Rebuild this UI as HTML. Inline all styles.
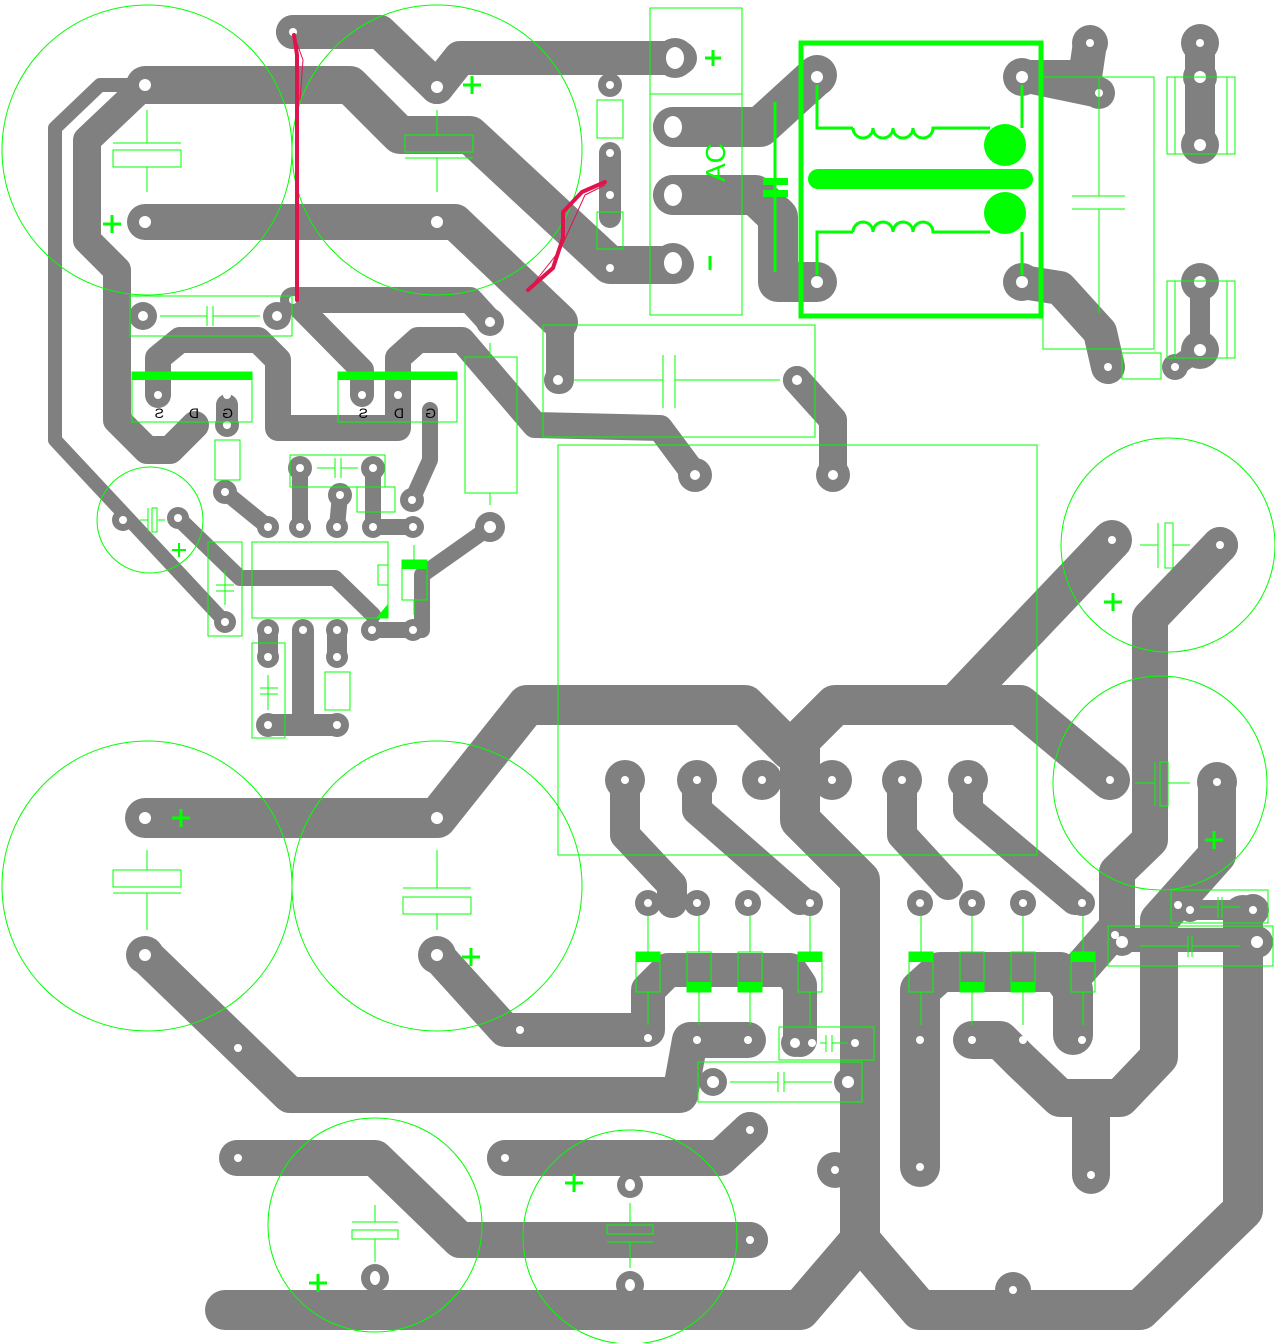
<!DOCTYPE html>
<html><head><meta charset="utf-8"><style>
html,body{margin:0;padding:0;background:#fff}
svg{display:block}
</style></head><body>
<svg width="1275" height="1343" viewBox="0 0 1275 1343" xmlns="http://www.w3.org/2000/svg">
<rect width="1275" height="1343" fill="#fff"/>
<g fill="none" stroke="#808080" stroke-linecap="round" stroke-linejoin="round">
 <polyline stroke-width="34" points="293,32 380,32 437,87"/>
 <polyline stroke-width="34" points="437,87 460,58 680,58"/>
 <polyline stroke-width="38" points="145,85 350,85 400,135 470,135 610,265 675,265"/>
 <polyline stroke-width="14" points="145,85 100,85 55,128 55,440 225,622"/>
 <polyline stroke-width="28" points="145,85 87,140 87,240 117,270 117,420 147,450 170,450 195,425"/>
 <polyline stroke-width="36" points="145,222 455,222 560,322"/>
 <polyline stroke-width="28" points="560,322 560,380"/>
 <polyline stroke-width="26" points="293,300 470,300 490,322"/>
 <polyline stroke-width="24" points="293,300 362,370 362,395"/>
 <polyline stroke-width="26" points="158,395 158,358 180,340 258,340 278,360 278,428 398,428 398,358 418,340 462,340 535,425 660,428 695,475"/>
 <polyline stroke-width="16" points="430,410 430,460 412,500"/>
 <polyline stroke-width="22" points="227,405 227,425"/>
 <polyline stroke-width="16" points="225,492 268,527"/>
 <polyline stroke-width="16" points="300,468 300,527"/>
 <polyline stroke-width="16" points="340,495 337,527"/>
 <polyline stroke-width="16" points="373,468 373,527 413,527"/>
 <polyline stroke-width="16" points="490,527 422,575 422,630 372,630"/>
 <polyline stroke-width="16" points="178,518 240,578 335,578 373,615"/>
 <polyline stroke-width="20" points="268,630 268,657"/>
 <polyline stroke-width="22" points="303,632 303,725"/>
 <polyline stroke-width="22" points="268,725 337,725"/>
 <polyline stroke-width="20" points="337,632 337,657"/>
 <polyline stroke-width="40" points="673,127 760,127 817,75"/>
 <polyline stroke-width="40" points="673,195 755,195 778,217 778,282 817,282"/>
 <polyline stroke-width="22" points="610,153 610,217"/>
 <polyline stroke-width="34" points="1022,77 1085,77 1090,43"/>
 <polyline stroke-width="30" points="1022,77 1099,93"/>
 <polyline stroke-width="34" points="1022,282 1060,288 1100,332 1108,367"/>
 <polyline stroke-width="30" points="1200,43 1200,145"/>
 <polyline stroke-width="20" points="1200,282 1200,350 1175,367"/>
 <polyline stroke-width="28" points="797,380 833,420 833,475"/>
 <polyline stroke-width="40" points="145,818 437,818 527,705 745,705 790,750"/>
 <polyline stroke-width="40" points="1110,780 1020,705 835,705 800,740 800,820 860,880 860,1240 800,1310 225,1310"/>
 <polyline stroke-width="40" points="860,1240 920,1310 1140,1310 1243,1210 1243,915"/>
 <polyline stroke-width="40" points="1112,540 955,705"/>
 <polyline stroke-width="36" points="1220,545 1150,618 1150,840 1117,872 1117,927 1075,975"/>
 <polyline stroke-width="38" points="1217,782 1217,855 1159,920 1159,1057 1120,1098 1060,1098 1020,1060 1000,1040 972,1040"/>
 <polyline stroke-width="38" points="1091,1098 1091,1175"/>
 <polyline stroke-width="30" points="625,780 625,835 672,885 672,903"/>
 <polyline stroke-width="30" points="697,780 697,810 800,900"/>
 <polyline stroke-width="30" points="902,780 902,835 948,885"/>
 <polyline stroke-width="30" points="968,780 968,810 1075,900"/>
 <polyline stroke-width="34" points="437,955 505,1030 648,1030 648,990 668,970 790,970 800,985 800,1040"/>
 <polyline stroke-width="34" points="697,1040 748,1040"/>
 <polyline stroke-width="36" points="145,955 290,1095 680,1095 690,1040 748,1040"/>
 <polyline stroke-width="40" points="920,1167 920,990 940,972 1060,972 1073,990 1073,1035"/>
 <polyline stroke-width="36" points="237,1158 375,1158 460,1240 750,1240"/>
 <polyline stroke-width="36" points="505,1158 720,1158 750,1130"/>
 <polyline stroke-width="20" points="1190,910 1253,910"/>
 <polyline stroke-width="24" points="1120,940 1255,940"/>
</g>
<g fill="#808080">
 <circle cx="293" cy="32" r="17"/><circle cx="437" cy="87" r="17"/><circle cx="145" cy="85" r="17"/><circle cx="145" cy="222" r="17"/><circle cx="437" cy="222" r="17"/>
 <circle cx="675" cy="58" r="20"/><circle cx="673" cy="127" r="20"/><circle cx="673" cy="195" r="20"/><circle cx="673" cy="263" r="20"/>
 <circle cx="610" cy="85" r="12"/><circle cx="610" cy="268" r="12"/>
 <circle cx="143" cy="316" r="14"/><circle cx="277" cy="316" r="14"/><circle cx="490" cy="322" r="14"/><circle cx="558" cy="380" r="14"/><circle cx="797" cy="380" r="14"/>
 <circle cx="695" cy="475" r="17"/><circle cx="833" cy="475" r="17"/>
 <circle cx="227" cy="425" r="12"/><circle cx="225" cy="492" r="12"/><circle cx="268" cy="527" r="11"/><circle cx="300" cy="527" r="11"/><circle cx="337" cy="527" r="11"/><circle cx="373" cy="527" r="11"/><circle cx="413" cy="527" r="11"/>
 <circle cx="300" cy="468" r="12"/><circle cx="340" cy="495" r="12"/><circle cx="373" cy="468" r="12"/><circle cx="412" cy="500" r="12"/><circle cx="490" cy="527" r="15"/>
 <circle cx="123" cy="520" r="11"/><circle cx="178" cy="518" r="11"/><circle cx="225" cy="622" r="11"/><circle cx="268" cy="630" r="11"/><circle cx="303" cy="630" r="11"/><circle cx="337" cy="630" r="11"/><circle cx="372" cy="630" r="11"/><circle cx="413" cy="630" r="11"/>
 <circle cx="268" cy="657" r="11"/><circle cx="337" cy="657" r="11"/><circle cx="268" cy="725" r="12"/><circle cx="337" cy="725" r="12"/>
 <circle cx="817" cy="77" r="19"/><circle cx="1022" cy="77" r="19"/><circle cx="817" cy="282" r="19"/><circle cx="1022" cy="282" r="19"/>
 <circle cx="1090" cy="43" r="18"/><circle cx="1099" cy="93" r="16"/><circle cx="1108" cy="367" r="13"/><circle cx="1175" cy="367" r="13"/>
 <circle cx="1200" cy="43" r="19"/><circle cx="1200" cy="77" r="17"/><circle cx="1200" cy="145" r="19"/><circle cx="1200" cy="282" r="19"/><circle cx="1200" cy="350" r="19"/>
 <circle cx="625" cy="780" r="20"/><circle cx="697" cy="780" r="20"/><circle cx="762" cy="780" r="20"/><circle cx="832" cy="780" r="20"/><circle cx="902" cy="780" r="20"/><circle cx="968" cy="780" r="20"/>
 <circle cx="648" cy="903" r="13"/><circle cx="697" cy="903" r="13"/><circle cx="748" cy="903" r="13"/><circle cx="810" cy="903" r="13"/><circle cx="920" cy="903" r="13"/><circle cx="972" cy="903" r="13"/><circle cx="1023" cy="903" r="13"/><circle cx="1082" cy="903" r="13"/>
 <circle cx="1110" cy="780" r="18"/><circle cx="1112" cy="540" r="18"/><circle cx="1220" cy="545" r="18"/><circle cx="1217" cy="782" r="20"/>
 <circle cx="145" cy="818" r="19"/><circle cx="437" cy="818" r="19"/><circle cx="145" cy="955" r="19"/><circle cx="437" cy="955" r="19"/>
 <circle cx="795" cy="1043" r="14"/><circle cx="855" cy="1043" r="12"/><circle cx="713" cy="1082" r="14"/><circle cx="848" cy="1082" r="14"/>
 <circle cx="1190" cy="910" r="12"/><circle cx="1253" cy="910" r="16"/><circle cx="1122" cy="942" r="14"/><circle cx="1257" cy="942" r="16"/>
 <circle cx="375" cy="1278" r="14"/><circle cx="630" cy="1185" r="13"/><circle cx="630" cy="1285" r="14"/><circle cx="835" cy="1170" r="18"/><circle cx="1013" cy="1290" r="18"/>
 <circle cx="750" cy="1130" r="18"/><circle cx="750" cy="1240" r="18"/><circle cx="238" cy="1158" r="18"/><circle cx="505" cy="1158" r="18"/>
</g>
<g fill="#fff">
 <circle cx="437" cy="87" r="6"/><circle cx="145" cy="85" r="6"/><circle cx="145" cy="222" r="6"/><circle cx="437" cy="222" r="6"/>
 <ellipse cx="675" cy="58" rx="9" ry="11"/><ellipse cx="673" cy="127" rx="9" ry="11"/><ellipse cx="673" cy="195" rx="9" ry="11"/><ellipse cx="673" cy="263" rx="9" ry="11"/>
 <circle cx="610" cy="85" r="4"/><circle cx="610" cy="153" r="4"/><circle cx="610" cy="195" r="4"/><circle cx="610" cy="268" r="4"/>
 <circle cx="143" cy="316" r="5"/><circle cx="277" cy="316" r="5"/><circle cx="490" cy="322" r="5"/><circle cx="558" cy="380" r="5"/><circle cx="797" cy="380" r="5"/>
 <circle cx="695" cy="475" r="5"/><circle cx="833" cy="475" r="5"/>
 <circle cx="158" cy="395" r="4"/><circle cx="193" cy="395" r="4"/><circle cx="227" cy="395" r="4"/><circle cx="362" cy="395" r="4"/><circle cx="398" cy="395" r="4"/><circle cx="430" cy="395" r="4"/>
 <circle cx="227" cy="425" r="4"/><circle cx="225" cy="492" r="4"/><circle cx="268" cy="527" r="4"/><circle cx="300" cy="527" r="4"/><circle cx="337" cy="527" r="4"/><circle cx="373" cy="527" r="4"/><circle cx="413" cy="527" r="4"/>
 <circle cx="300" cy="468" r="4"/><circle cx="340" cy="495" r="4"/><circle cx="373" cy="468" r="4"/><circle cx="412" cy="500" r="4"/><circle cx="490" cy="527" r="6"/>
 <circle cx="123" cy="520" r="4"/><circle cx="178" cy="518" r="4"/><circle cx="225" cy="622" r="4"/><circle cx="268" cy="630" r="4"/><circle cx="303" cy="630" r="4"/><circle cx="337" cy="630" r="4"/><circle cx="372" cy="630" r="4"/><circle cx="413" cy="630" r="4"/>
 <circle cx="268" cy="657" r="4"/><circle cx="337" cy="657" r="4"/><circle cx="268" cy="725" r="4"/><circle cx="337" cy="725" r="4"/>
 <circle cx="817" cy="77" r="6"/><circle cx="1022" cy="77" r="6"/><circle cx="817" cy="282" r="6"/><circle cx="1022" cy="282" r="6"/>
 <circle cx="1090" cy="43" r="4"/><circle cx="1099" cy="93" r="4"/><circle cx="1108" cy="367" r="4"/><circle cx="1175" cy="367" r="4"/>
 <circle cx="1200" cy="43" r="4"/><circle cx="1200" cy="77" r="6"/><circle cx="1200" cy="145" r="6"/><circle cx="1200" cy="282" r="6"/><circle cx="1200" cy="350" r="6"/>
 <circle cx="625" cy="780" r="4"/><circle cx="697" cy="780" r="4"/><circle cx="762" cy="780" r="4"/><circle cx="832" cy="780" r="4"/><circle cx="902" cy="780" r="4"/><circle cx="968" cy="780" r="4"/>
 <circle cx="648" cy="903" r="4"/><circle cx="697" cy="903" r="4"/><circle cx="748" cy="903" r="4"/><circle cx="810" cy="903" r="4"/><circle cx="920" cy="903" r="4"/><circle cx="972" cy="903" r="4"/><circle cx="1023" cy="903" r="4"/><circle cx="1082" cy="903" r="4"/>
 <circle cx="648" cy="1038" r="4"/><circle cx="697" cy="1040" r="4"/><circle cx="748" cy="1040" r="4"/><circle cx="920" cy="1040" r="4"/><circle cx="972" cy="1040" r="4"/><circle cx="1023" cy="1040" r="4"/><circle cx="1082" cy="1040" r="4"/>
 <circle cx="1110" cy="780" r="4"/><circle cx="1112" cy="540" r="4"/><circle cx="1220" cy="545" r="4"/><circle cx="1217" cy="782" r="4"/>
 <circle cx="145" cy="818" r="6"/><circle cx="437" cy="818" r="6"/><circle cx="145" cy="955" r="6"/><circle cx="437" cy="955" r="6"/>
 <circle cx="520" cy="1030" r="4"/><circle cx="238" cy="1048" r="4"/>
 <circle cx="795" cy="1043" r="5"/><circle cx="812" cy="1043" r="4"/><circle cx="855" cy="1043" r="4"/><circle cx="713" cy="1082" r="6"/><circle cx="848" cy="1082" r="6"/>
 <circle cx="1190" cy="910" r="4"/><circle cx="1253" cy="910" r="4"/><circle cx="1122" cy="942" r="6"/><circle cx="1257" cy="942" r="6"/><circle cx="1178" cy="905" r="4"/><circle cx="1115" cy="935" r="4"/>
 <ellipse cx="375" cy="1278" rx="5" ry="7"/><ellipse cx="630" cy="1185" rx="5" ry="6"/><ellipse cx="630" cy="1285" rx="5" ry="6"/><circle cx="835" cy="1170" r="4"/><circle cx="1013" cy="1290" r="4"/>
 <circle cx="750" cy="1130" r="4"/><circle cx="750" cy="1240" r="4"/><circle cx="238" cy="1158" r="4"/><circle cx="505" cy="1158" r="4"/>
 <circle cx="920" cy="1167" r="4"/><circle cx="1091" cy="1175" r="4"/><circle cx="293" cy="32" r="4"/><circle cx="293" cy="300" r="4"/>
</g>
<g fill="none" stroke="#00ff00" stroke-width="1">
 <circle cx="147" cy="150" r="145"/><circle cx="437" cy="150" r="145"/><circle cx="147" cy="886" r="145"/><circle cx="437" cy="886" r="145"/>
 <circle cx="150" cy="520" r="53"/><circle cx="1168" cy="545" r="107"/><circle cx="1160" cy="783" r="107"/>
 <circle cx="375" cy="1225" r="107"/><circle cx="630" cy="1237" r="107"/>
 <rect x="113" y="150" width="68" height="17"/><line x1="113" y1="143" x2="181" y2="143"/><line x1="147" y1="110" x2="147" y2="143"/><line x1="147" y1="167" x2="147" y2="192"/>
 <rect x="405" y="135" width="68" height="17"/><line x1="405" y1="158" x2="473" y2="158"/><line x1="437" y1="110" x2="437" y2="135"/><line x1="437" y1="158" x2="437" y2="192"/>
 <rect x="113" y="870" width="68" height="17"/><line x1="113" y1="893" x2="181" y2="893"/><line x1="147" y1="850" x2="147" y2="870"/><line x1="147" y1="893" x2="147" y2="930"/>
 <rect x="403" y="897" width="68" height="17"/><line x1="403" y1="888" x2="471" y2="888"/><line x1="437" y1="850" x2="437" y2="888"/><line x1="437" y1="914" x2="437" y2="930"/>
 <rect x="352" y="1230" width="46" height="9"/><line x1="352" y1="1222" x2="398" y2="1222"/><line x1="375" y1="1205" x2="375" y2="1222"/><line x1="375" y1="1239" x2="375" y2="1262"/>
 <rect x="607" y="1225" width="46" height="9"/><line x1="607" y1="1242" x2="653" y2="1242"/><line x1="630" y1="1203" x2="630" y2="1225"/><line x1="630" y1="1242" x2="630" y2="1268"/>
 <rect x="130" y="296" width="162" height="40"/><line x1="160" y1="316" x2="207" y2="316"/><line x1="213" y1="316" x2="260" y2="316"/><line x1="207" y1="306" x2="207" y2="326"/><line x1="213" y1="306" x2="213" y2="326"/>
 <rect x="132" y="372" width="120" height="50"/><rect x="338" y="372" width="119" height="50"/>
 <rect x="215" y="440" width="25" height="40"/><rect x="290" y="455" width="95" height="32"/><line x1="317" y1="468" x2="335" y2="468"/><line x1="341" y1="468" x2="358" y2="468"/><line x1="335" y1="458" x2="335" y2="478"/><line x1="341" y1="458" x2="341" y2="478"/>
 <rect x="357" y="487" width="38" height="25"/>
 <rect x="208" y="542" width="34" height="94"/><line x1="216" y1="585" x2="234" y2="585"/><line x1="216" y1="591" x2="234" y2="591"/><line x1="225" y1="570" x2="225" y2="605"/>
 <rect x="252" y="542" width="136" height="76"/><polyline points="388,565 378,565 378,585 388,585"/>
 <rect x="402" y="560" width="25" height="40"/><line x1="414" y1="545" x2="414" y2="560"/><line x1="414" y1="600" x2="414" y2="615"/>
 <rect x="252" y="643" width="33" height="95"/><line x1="260" y1="688" x2="278" y2="688"/><line x1="260" y1="694" x2="278" y2="694"/><line x1="268" y1="675" x2="268" y2="710"/>
 <rect x="325" y="672" width="25" height="38"/>
 <line x1="140" y1="520" x2="148" y2="520"/><line x1="158" y1="520" x2="165" y2="520"/><line x1="148" y1="508" x2="148" y2="532"/><rect x="152" y="508" width="5" height="24"/>
 <rect x="465" y="357" width="52" height="136"/><line x1="490" y1="343" x2="490" y2="357"/><line x1="490" y1="493" x2="490" y2="505"/>
 <rect x="543" y="325" width="272" height="112"/><line x1="573" y1="380" x2="663" y2="380"/><line x1="675" y1="380" x2="780" y2="380"/><line x1="663" y1="355" x2="663" y2="408"/><line x1="675" y1="355" x2="675" y2="408"/>
 <rect x="558" y="445" width="479" height="410"/>
 <rect x="650" y="8" width="92" height="86"/><rect x="650" y="94" width="92" height="221"/>
 <rect x="597" y="100" width="26" height="38"/><rect x="597" y="212" width="26" height="37"/>
 <rect x="1043" y="77" width="111" height="272"/><line x1="1072" y1="196" x2="1125" y2="196"/><line x1="1072" y1="209" x2="1125" y2="209"/><line x1="1099" y1="77" x2="1099" y2="196"/><line x1="1099" y1="209" x2="1099" y2="313"/>
 <rect x="1167" y="77" width="68" height="77"/><line x1="1175" y1="77" x2="1175" y2="154"/><line x1="1227" y1="77" x2="1227" y2="154"/>
 <rect x="1167" y="281" width="68" height="77"/><line x1="1175" y1="281" x2="1175" y2="358"/><line x1="1227" y1="281" x2="1227" y2="358"/>
 <rect x="1122" y="353" width="39" height="26"/>
 <line x1="1140" y1="545" x2="1158" y2="545"/><line x1="1158" y1="523" x2="1158" y2="568"/><rect x="1165" y="523" width="8" height="45"/><line x1="1173" y1="545" x2="1190" y2="545"/>
 <line x1="1135" y1="783" x2="1155" y2="783"/><line x1="1155" y1="762" x2="1155" y2="806"/><rect x="1160" y="762" width="8" height="44"/><line x1="1168" y1="783" x2="1190" y2="783"/>
 <rect x="1171" y="890" width="97" height="33"/><line x1="1200" y1="907" x2="1218" y2="907"/><line x1="1218" y1="897" x2="1218" y2="918"/><line x1="1222" y1="897" x2="1222" y2="918"/><line x1="1222" y1="907" x2="1240" y2="907"/>
 <rect x="1108" y="926" width="165" height="40"/><line x1="1140" y1="946" x2="1188" y2="946"/><line x1="1188" y1="936" x2="1188" y2="957"/><line x1="1192" y1="936" x2="1192" y2="957"/><line x1="1192" y1="946" x2="1240" y2="946"/>
 <rect x="779" y="1027" width="95" height="33"/><line x1="820" y1="1043" x2="826" y2="1043"/><line x1="826" y1="1035" x2="826" y2="1052"/><line x1="832" y1="1035" x2="832" y2="1052"/><line x1="832" y1="1043" x2="848" y2="1043"/>
 <rect x="698" y="1062" width="164" height="40"/><line x1="730" y1="1082" x2="778" y2="1082"/><line x1="778" y1="1072" x2="778" y2="1092"/><line x1="784" y1="1072" x2="784" y2="1092"/><line x1="784" y1="1082" x2="832" y2="1082"/>
 <rect x="636" y="952" width="24" height="40"/><rect x="687" y="952" width="24" height="40"/><rect x="738" y="952" width="24" height="40"/><rect x="798" y="952" width="24" height="40"/>
 <rect x="909" y="952" width="24" height="40"/><rect x="960" y="952" width="24" height="40"/><rect x="1011" y="952" width="24" height="40"/><rect x="1071" y="952" width="24" height="40"/>
 <line x1="648" y1="916" x2="648" y2="952"/><line x1="648" y1="992" x2="648" y2="1025"/><line x1="699" y1="916" x2="699" y2="952"/><line x1="699" y1="992" x2="699" y2="1025"/>
 <line x1="750" y1="916" x2="750" y2="952"/><line x1="750" y1="992" x2="750" y2="1025"/><line x1="810" y1="916" x2="810" y2="952"/><line x1="810" y1="992" x2="810" y2="1025"/>
 <line x1="921" y1="916" x2="921" y2="952"/><line x1="921" y1="992" x2="921" y2="1025"/><line x1="972" y1="916" x2="972" y2="952"/><line x1="972" y1="992" x2="972" y2="1025"/>
 <line x1="1023" y1="916" x2="1023" y2="952"/><line x1="1023" y1="992" x2="1023" y2="1025"/><line x1="1083" y1="916" x2="1083" y2="952"/><line x1="1083" y1="992" x2="1083" y2="1025"/>
 <line x1="775" y1="102" x2="775" y2="272" stroke-width="3"/>
</g>
<g fill="#00ff00">
 <rect x="132" y="372" width="120" height="8"/><rect x="338" y="372" width="119" height="8"/>
 <rect x="402" y="560" width="25" height="9"/><polygon points="376,618 388,604 388,618"/>
 <rect x="636" y="952" width="24" height="10"/><rect x="687" y="982" width="24" height="10"/><rect x="738" y="982" width="24" height="10"/><rect x="798" y="952" width="24" height="10"/>
 <rect x="909" y="952" width="24" height="10"/><rect x="960" y="982" width="24" height="10"/><rect x="1011" y="982" width="24" height="10"/><rect x="1071" y="952" width="24" height="10"/>
 <rect x="763" y="178" width="25" height="7"/><rect x="763" y="190" width="25" height="7"/>
 <rect x="808" y="169" width="225" height="20" rx="10"/>
 <ellipse cx="1005" cy="145" rx="21" ry="21"/><ellipse cx="1005" cy="213" rx="21" ry="21"/>
</g>
<g fill="none" stroke="#00ff00" stroke-width="5">
 <rect x="801" y="43" width="240" height="273"/>
</g>
<g fill="none" stroke="#00ff00" stroke-width="3">
 <polyline points="817,85 817,128 853,128"/>
 <path d="M853,128 a10,10 0 0 0 20,0 a10,10 0 0 0 20,0 a10,10 0 0 0 20,0 a10,10 0 0 0 20,0 L990,128"/>
 <polyline points="1022,85 1022,128"/>
 <polyline points="817,275 817,232 853,232"/>
 <path d="M853,232 a10,10 0 0 1 20,0 a10,10 0 0 1 20,0 a10,10 0 0 1 20,0 a10,10 0 0 1 20,0 L990,232"/>
 <polyline points="1022,275 1022,232"/>
</g>
<g stroke="#00ff00" stroke-width="3">
 <line x1="463" y1="85" x2="481" y2="85"/><line x1="472" y1="76" x2="472" y2="94"/>
 <line x1="103" y1="224" x2="121" y2="224"/><line x1="112" y1="215" x2="112" y2="233"/>
 <line x1="705" y1="58" x2="721" y2="58"/><line x1="713" y1="50" x2="713" y2="66"/>
 <line x1="710" y1="256" x2="710" y2="270"/>
 <line x1="172" y1="818" x2="190" y2="818"/><line x1="181" y1="809" x2="181" y2="827"/>
 <line x1="462" y1="957" x2="480" y2="957"/><line x1="471" y1="948" x2="471" y2="966"/>
 <line x1="1104" y1="602" x2="1122" y2="602"/><line x1="1113" y1="593" x2="1113" y2="611"/>
 <line x1="1205" y1="840" x2="1223" y2="840"/><line x1="1214" y1="831" x2="1214" y2="849"/>
 <line x1="309" y1="1283" x2="327" y2="1283"/><line x1="318" y1="1274" x2="318" y2="1292"/>
 <line x1="565" y1="1183" x2="583" y2="1183"/><line x1="574" y1="1174" x2="574" y2="1192"/>
</g>
<g stroke="#00ff00" stroke-width="2">
 <line x1="172" y1="550" x2="186" y2="550"/><line x1="179" y1="543" x2="179" y2="557"/>
</g>
<text x="0" y="0" transform="translate(725,182) rotate(-90)" font-family="Liberation Sans, sans-serif" font-size="28" fill="#00ff00">AC</text>
<g font-family="Liberation Sans, sans-serif" font-size="14" fill="#000">
 <text transform="translate(164,418) scale(-1,1)">S</text><text transform="translate(199,418) scale(-1,1)">D</text><text transform="translate(233,418) scale(-1,1)">G</text>
 <text transform="translate(368,418) scale(-1,1)">S</text><text transform="translate(404,418) scale(-1,1)">D</text><text transform="translate(436,418) scale(-1,1)">G</text>
</g>
<g fill="none" stroke="#e0144c" stroke-linecap="round" stroke-linejoin="round">
 <polyline stroke-width="4" points="294,35 297,55 297,300"/>
 <polyline stroke-width="1" points="294,35 303,60 300,100"/>
 <polyline stroke-width="4" points="528,290 553,268 563,238 563,212 582,192 605,182"/>
 <polyline stroke-width="1" points="530,288 560,250 585,195 605,185"/>
</g>
</svg>
</body></html>
